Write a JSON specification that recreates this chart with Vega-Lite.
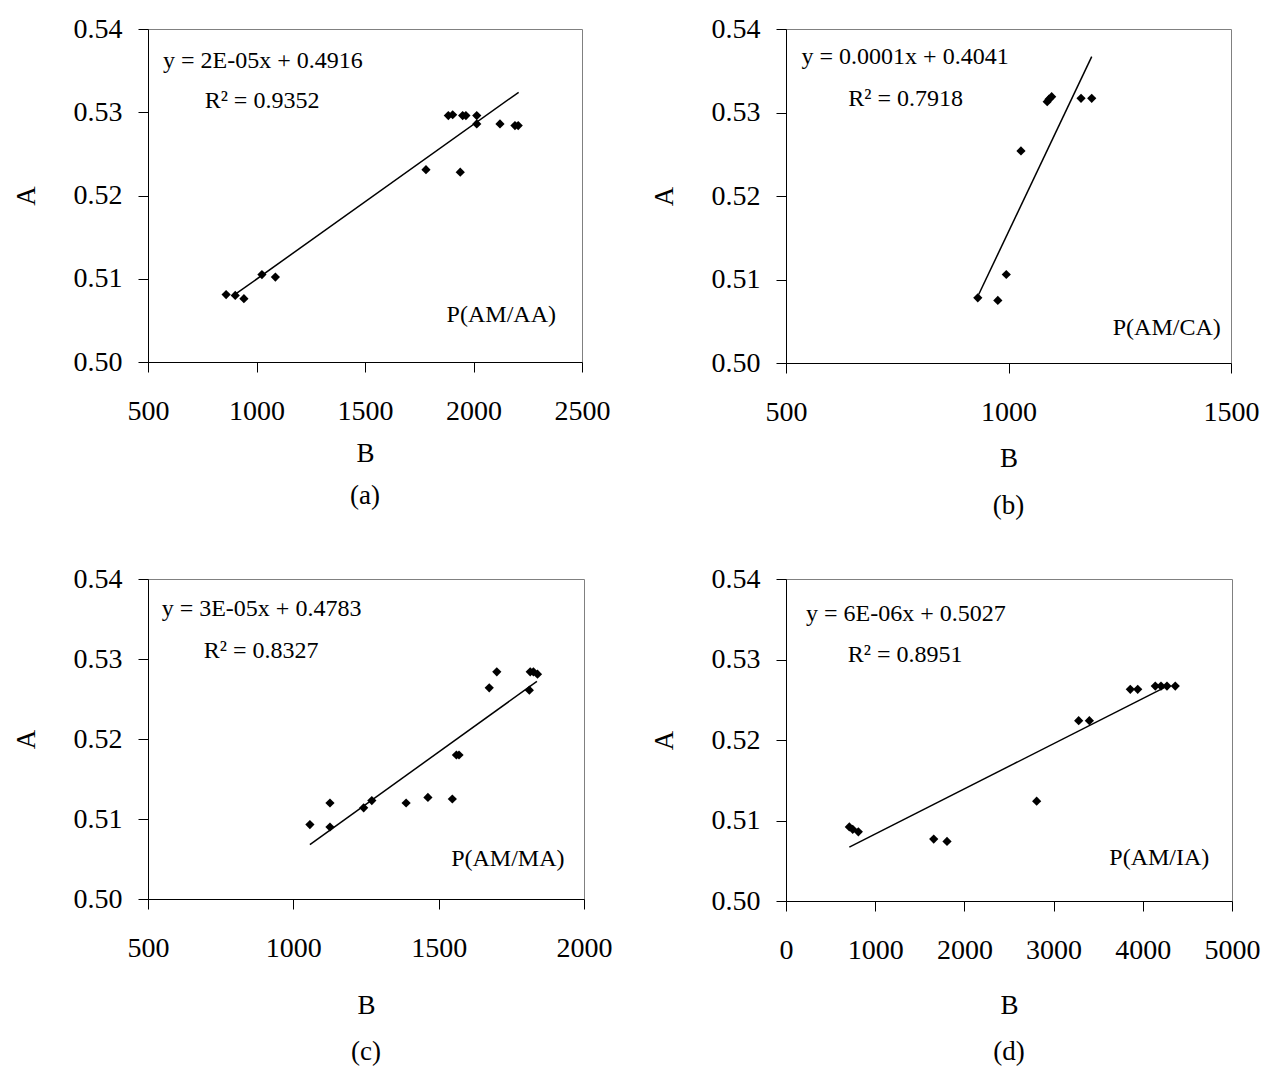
{
"$schema":"https://vega.github.io/schema/vega-lite/v6.json",
"background":"white",
"padding":{"left":11,"top":14,"right":0,"bottom":0},
"spacing":44,
"datasets":{
"pts":[
{"p":"a","x":860,"y":0.5081},{"p":"a","x":902,"y":0.5080},{"p":"a","x":942,"y":0.5076},{"p":"a","x":1025,"y":0.5105},{"p":"a","x":1087,"y":0.5102},{"p":"a","x":1781,"y":0.5231},{"p":"a","x":1939,"y":0.5228},{"p":"a","x":1884,"y":0.5296},{"p":"a","x":1904,"y":0.5297},{"p":"a","x":1950,"y":0.5296},{"p":"a","x":1965,"y":0.5296},{"p":"a","x":2015,"y":0.5296},{"p":"a","x":2015,"y":0.5286},{"p":"a","x":2122,"y":0.5286},{"p":"a","x":2191,"y":0.5284},{"p":"a","x":2206,"y":0.5284},
{"p":"b","x":931,"y":0.5078},{"p":"b","x":976,"y":0.5075},{"p":"b","x":995,"y":0.5106},{"p":"b","x":1028,"y":0.5254},{"p":"b","x":1087,"y":0.5313},{"p":"b","x":1091,"y":0.5316},{"p":"b","x":1097,"y":0.5319},{"p":"b","x":1163,"y":0.5317},{"p":"b","x":1187,"y":0.5317},
{"p":"c","x":1057,"y":0.5093},{"p":"c","x":1126,"y":0.5120},{"p":"c","x":1126,"y":0.5090},{"p":"c","x":1242,"y":0.5114},{"p":"c","x":1270,"y":0.5123},{"p":"c","x":1388,"y":0.5120},{"p":"c","x":1463,"y":0.5127},{"p":"c","x":1547,"y":0.5125},{"p":"c","x":1561,"y":0.5180},{"p":"c","x":1570,"y":0.5180},{"p":"c","x":1674,"y":0.5264},{"p":"c","x":1700,"y":0.5284},{"p":"c","x":1812,"y":0.5261},{"p":"c","x":1815,"y":0.5284},{"p":"c","x":1826,"y":0.5284},{"p":"c","x":1840,"y":0.5281},
{"p":"d","x":710,"y":0.5092},{"p":"d","x":748,"y":0.5089},{"p":"d","x":811,"y":0.5086},{"p":"d","x":1656,"y":0.5077},{"p":"d","x":1805,"y":0.5074},{"p":"d","x":2810,"y":0.5124},{"p":"d","x":3281,"y":0.5224},{"p":"d","x":3401,"y":0.5224},{"p":"d","x":3860,"y":0.5263},{"p":"d","x":3943,"y":0.5263},{"p":"d","x":4140,"y":0.5267},{"p":"d","x":4204,"y":0.5267},{"p":"d","x":4271,"y":0.5267},{"p":"d","x":4364,"y":0.5267}
],
"lines":[
{"p":"a","x":906,"y":0.5082},{"p":"a","x":2208,"y":0.5324},
{"p":"b","x":933,"y":0.5082},{"p":"b","x":1187,"y":0.5367},
{"p":"c","x":1057,"y":0.5068},{"p":"c","x":1838,"y":0.5272},
{"p":"d","x":710,"y":0.5067},{"p":"d","x":4241,"y":0.5265}
],
"notes":[
{"p":"a","al":"left","x":569,"y":0.5362,"t":"y = 2E-05x + 0.4916"},{"p":"a","al":"left","x":761,"y":0.5314,"t":"R² = 0.9352"},{"p":"a","al":"right","x":2380,"y":0.5056,"t":"P(AM/AA)"},
{"p":"b","al":"left","x":535,"y":0.5366,"t":"y = 0.0001x + 0.4041"},{"p":"b","al":"left","x":640,"y":0.5316,"t":"R² = 0.7918"},{"p":"b","al":"right","x":1477,"y":0.5042,"t":"P(AM/CA)"},
{"p":"c","al":"left","x":547,"y":0.5362,"t":"y = 3E-05x + 0.4783"},{"p":"c","al":"left","x":692,"y":0.5310,"t":"R² = 0.8327"},{"p":"c","al":"right","x":1933,"y":0.5050,"t":"P(AM/MA)"},
{"p":"d","al":"left","x":224,"y":0.5357,"t":"y = 6E-06x + 0.5027"},{"p":"d","al":"left","x":692,"y":0.5306,"t":"R² = 0.8951"},{"p":"d","al":"right","x":4746,"y":0.5053,"t":"P(AM/IA)"}
]
},
"vconcat":[
{"spacing":38,"hconcat":[
{"width":434,"height":333,
"title":{"text":"(a)","orient":"bottom","offset":17},
"encoding":{
"x":{"field":"x","type":"quantitative","scale":{"domain":[500,2500],"nice":false,"zero":false},"axis":{"values":[500,1000,1500,2000,2500],"format":"d","title":"B","titlePadding":15}},
"y":{"field":"y","type":"quantitative","scale":{"domain":[0.5,0.54],"nice":false,"zero":false},"axis":{"values":[0.5,0.51,0.52,0.53,0.54],"format":".2f","title":"A","titlePadding":33}}},
"layer":[
{"data":{"name":"lines"},"transform":[{"filter":"datum.p==='a'"}],"mark":{"type":"line","color":"black","strokeWidth":1.5}},
{"data":{"name":"pts"},"transform":[{"filter":"datum.p==='a'"}],"mark":{"type":"point","shape":"diamond","filled":true,"size":85,"color":"black","opacity":1}},
{"data":{"name":"notes"},"transform":[{"filter":"datum.p==='a' && datum.al==='left'"}],"mark":{"type":"text","align":"left","baseline":"middle","fontSize":24,"font":"Liberation Serif","color":"black"},"encoding":{"text":{"field":"t"}}},
{"data":{"name":"notes"},"transform":[{"filter":"datum.p==='a' && datum.al==='right'"}],"mark":{"type":"text","align":"right","baseline":"middle","fontSize":24,"font":"Liberation Serif","color":"black"},"encoding":{"text":{"field":"t"}}}
]},
{"width":445,"height":334,
"title":{"text":"(b)","orient":"bottom","offset":22},
"encoding":{
"x":{"field":"x","type":"quantitative","scale":{"domain":[500,1500],"nice":false,"zero":false},"axis":{"values":[500,1000,1500],"format":"d","title":"B","titlePadding":19}},
"y":{"field":"y","type":"quantitative","scale":{"domain":[0.5,0.54],"nice":false,"zero":false},"axis":{"values":[0.5,0.51,0.52,0.53,0.54],"format":".2f","title":"A","titlePadding":33}}},
"layer":[
{"data":{"name":"lines"},"transform":[{"filter":"datum.p==='b'"}],"mark":{"type":"line","color":"black","strokeWidth":1.5}},
{"data":{"name":"pts"},"transform":[{"filter":"datum.p==='b'"}],"mark":{"type":"point","shape":"diamond","filled":true,"size":85,"color":"black","opacity":1}},
{"data":{"name":"notes"},"transform":[{"filter":"datum.p==='b' && datum.al==='left'"}],"mark":{"type":"text","align":"left","baseline":"middle","fontSize":24,"font":"Liberation Serif","color":"black"},"encoding":{"text":{"field":"t"}}},
{"data":{"name":"notes"},"transform":[{"filter":"datum.p==='b' && datum.al==='right'"}],"mark":{"type":"text","align":"right","baseline":"middle","fontSize":24,"font":"Liberation Serif","color":"black"},"encoding":{"text":{"field":"t"}}}
]}
]},
{"spacing":36,"hconcat":[
{"width":436,"height":320,
"title":{"text":"(c)","orient":"bottom","offset":21},
"encoding":{
"x":{"field":"x","type":"quantitative","scale":{"domain":[500,2000],"nice":false,"zero":false},"axis":{"values":[500,1000,1500,2000],"format":"d","title":"B","titlePadding":30}},
"y":{"field":"y","type":"quantitative","scale":{"domain":[0.5,0.54],"nice":false,"zero":false},"axis":{"values":[0.5,0.51,0.52,0.53,0.54],"format":".2f","title":"A","titlePadding":33}}},
"layer":[
{"data":{"name":"lines"},"transform":[{"filter":"datum.p==='c'"}],"mark":{"type":"line","color":"black","strokeWidth":1.5}},
{"data":{"name":"pts"},"transform":[{"filter":"datum.p==='c'"}],"mark":{"type":"point","shape":"diamond","filled":true,"size":85,"color":"black","opacity":1}},
{"data":{"name":"notes"},"transform":[{"filter":"datum.p==='c' && datum.al==='left'"}],"mark":{"type":"text","align":"left","baseline":"middle","fontSize":24,"font":"Liberation Serif","color":"black"},"encoding":{"text":{"field":"t"}}},
{"data":{"name":"notes"},"transform":[{"filter":"datum.p==='c' && datum.al==='right'"}],"mark":{"type":"text","align":"right","baseline":"middle","fontSize":24,"font":"Liberation Serif","color":"black"},"encoding":{"text":{"field":"t"}}}
]},
{"width":446,"height":322,
"title":{"text":"(d)","orient":"bottom","offset":21},
"encoding":{
"x":{"field":"x","type":"quantitative","scale":{"domain":[0,5000],"nice":false,"zero":false},"axis":{"values":[0,1000,2000,3000,4000,5000],"format":"d","title":"B","titlePadding":28}},
"y":{"field":"y","type":"quantitative","scale":{"domain":[0.5,0.54],"nice":false,"zero":false},"axis":{"values":[0.5,0.51,0.52,0.53,0.54],"format":".2f","title":"A","titlePadding":33}}},
"layer":[
{"data":{"name":"lines"},"transform":[{"filter":"datum.p==='d'"}],"mark":{"type":"line","color":"black","strokeWidth":1.5}},
{"data":{"name":"pts"},"transform":[{"filter":"datum.p==='d'"}],"mark":{"type":"point","shape":"diamond","filled":true,"size":85,"color":"black","opacity":1}},
{"data":{"name":"notes"},"transform":[{"filter":"datum.p==='d' && datum.al==='left'"}],"mark":{"type":"text","align":"left","baseline":"middle","fontSize":24,"font":"Liberation Serif","color":"black"},"encoding":{"text":{"field":"t"}}},
{"data":{"name":"notes"},"transform":[{"filter":"datum.p==='d' && datum.al==='right'"}],"mark":{"type":"text","align":"right","baseline":"middle","fontSize":24,"font":"Liberation Serif","color":"black"},"encoding":{"text":{"field":"t"}}}
]}
]}
],
"config":{
"font":"Liberation Serif",
"view":{"stroke":"#808080","strokeWidth":1},
"axis":{"domainColor":"black","domainWidth":1,"tickColor":"black","tickWidth":1,"tickSize":10,"labelFont":"Liberation Serif","labelFontSize":28,"labelColor":"black","labelFlush":false,"labelOverlap":false,"titleFont":"Liberation Serif","titleFontSize":27,"titleFontWeight":"normal","titleColor":"black","grid":false},
"axisX":{"labelPadding":25},
"axisY":{"labelPadding":16},
"title":{"font":"Liberation Serif","fontSize":27,"fontWeight":"normal","color":"black","anchor":"middle"}
}
}
